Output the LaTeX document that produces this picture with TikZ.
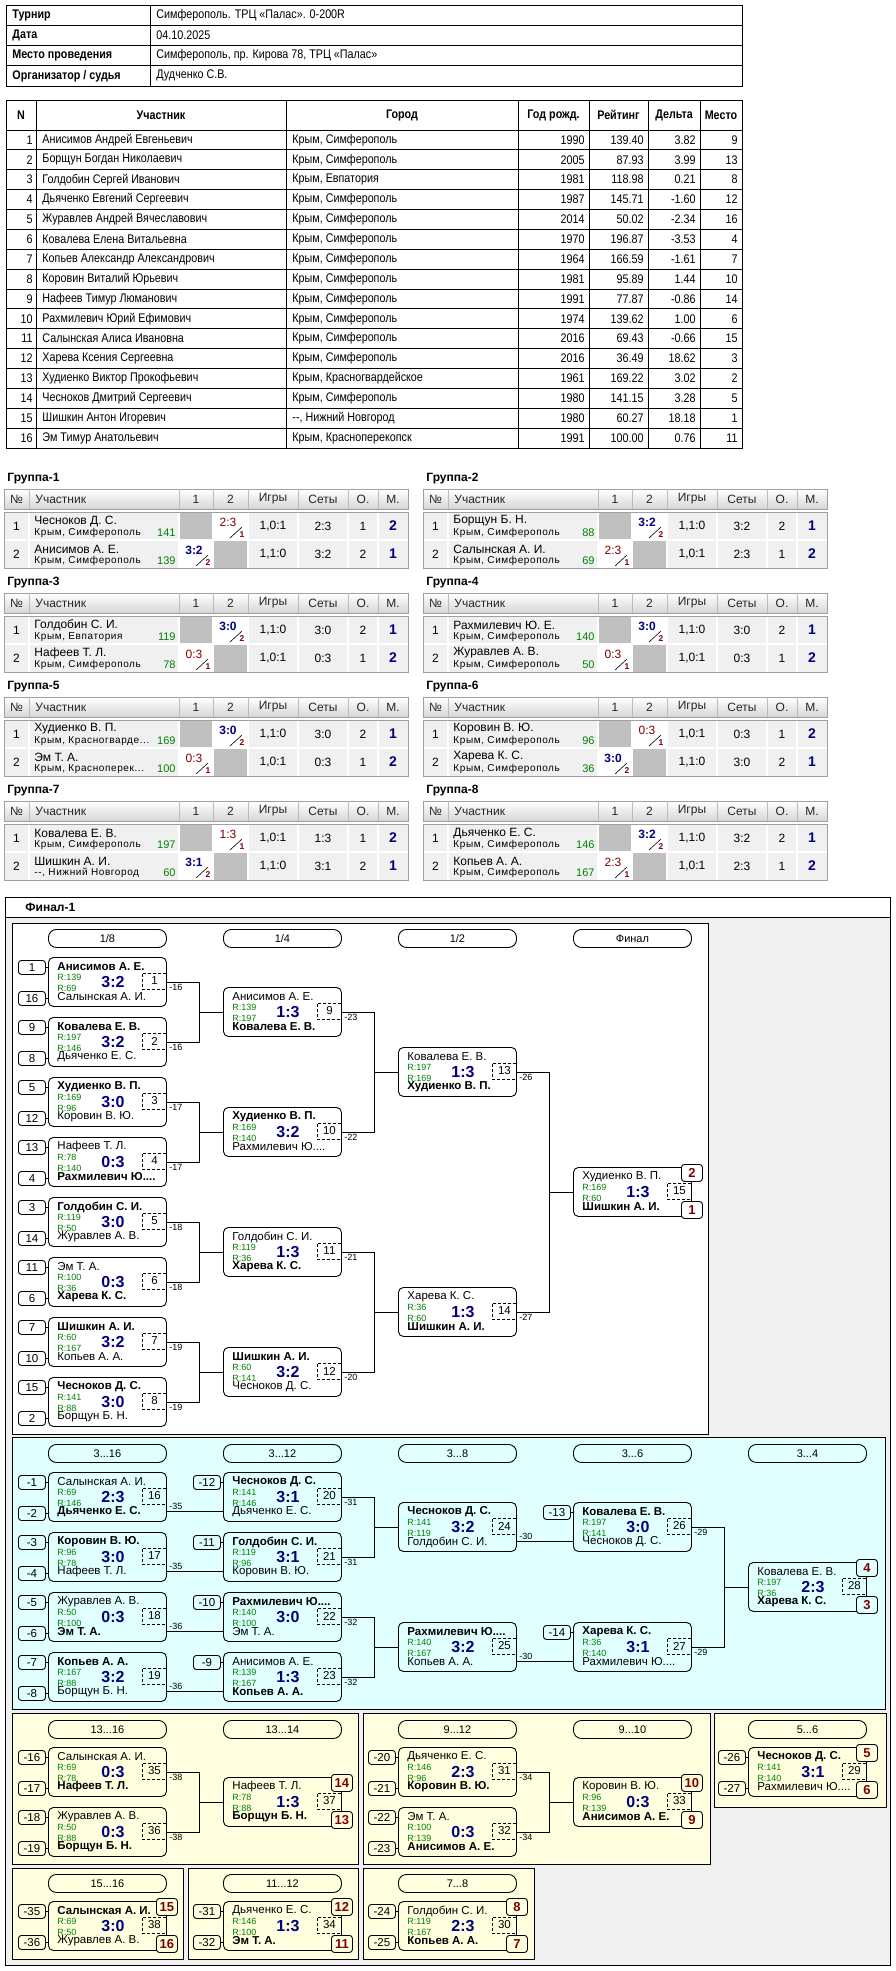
\documentclass[tikz,border=0pt]{standalone}
\usepackage{fontspec}
\setmainfont{Liberation Sans}
\newfontfamily\estreita[FakeStretch=0.86]{Liberation Sans}
\newfontfamily\cidade[LetterSpace=6]{Liberation Sans}
\usepackage{tikz}
\usetikzlibrary{calc,positioning}

\definecolor{azul}{HTML}{000080}
\definecolor{vinho}{HTML}{800000}
\definecolor{verde}{HTML}{008000}
\definecolor{fundo}{HTML}{F0F0F0}
\definecolor{ciano}{HTML}{E0FFFF}
\definecolor{creme}{HTML}{FFFFE0}
\definecolor{borda}{HTML}{A0A0A0}
\definecolor{celula}{HTML}{C0C0C0}

\newcommand\fsz[1]{\fontsize{#1}{#1}\selectfont}
\newcommand\ganhou{\bfseries\color{azul}}
\newcommand\perdeu{\color{vinho}}

% partida: nome, canto, jogador 1, R1, placar, R2, jogador 2, numero
\newcommand\partida[8]{%
  \node[jogo] (#1) at (#2) {};
  \node[jogador] (#1-a) at ($(#1.north west)+(9,10)$) {#3};
  \node[rating] (#1-ra) at ($(#1.north west)+(9,20)$) {R:#4};
  \node[placar] (#1-p) at ($(#1.north west)+(65,25)$) {#5};
  \node[rating] (#1-rb) at ($(#1.north west)+(9,31)$) {R:#6};
  \node[jogador] (#1-b) at ($(#1.north west)+(9,40)$) {#7};
  \node[numero] (#1-n) at ($(#1.north east)+(0,24)$) {#8};
}
\newcommand\sementes[3]{%
  \node[semente] (#1-s1) at ($(#1.north west)+(-30,3)$) {#2};
  \node[semente] (#1-s2) at ($(#1.north west)+(-30,34)$) {#3};
  \draw (#1-s1) -- (#1-s1 -| #1.west);
  \draw (#1-s2) -- (#1-s2 -| #1.west);
}
\newcommand\semente[2]{%
  \node[semente] (#1-s1) at ($(#1.north west)+(-30,3)$) {#2};
  \draw (#1-s1) -- (#1-s1 -| #1.west);
}
\newcommand\lugares[4]{%
  \node[lugar, fill=#4, anchor=north east] (#1-l1) at ($(#1.north east)+(11,-3)$) {#2};
  \node[lugar, fill=#4, anchor=south east] (#1-l2) at ($(#1.south east)+(11,2)$) {#3};
}
% grupo: nome, x, y, titulo, linhas
\newcommand\grupo[5]{%
  \begin{scope}[shift={(#2,#3)}]
    \node[gtitulo] (#1) at (3,0) {#4};
    \shade[top color=white, bottom color=black!16] (0,10) rectangle (404,30);
    \draw[borda] (0,10) rectangle (404,30);
    \foreach \cx in {25,175,209,244,294,344,374} \draw[borda!70] (\cx,10) -- (\cx,30);
    \node[gcab] (#1-h1) at (12.5,20) {№};
    \node[gcab, anchor=west] (#1-h2) at (31,20) {Участник};
    \foreach \cx/\tx [count=\i from 3] in {192/1, 226.5/2, 269/Игры, 319/Сеты, 359/О., 389/М.}
      \node[gcab] (#1-h\i) at (\cx,20) {\tx};
    \fill[fundo] (0,33) rectangle (404,89);
    \fill[celula] (175,33) rectangle (209,61);
    \fill[celula] (209,61) rectangle (244,89);
    \fill[white] (209,33) rectangle (244,61);
    \fill[white] (175,61) rectangle (209,89);
    \foreach \cx in {25,175,209,244,294,344,374} \draw[white, line width=1.2pt] (\cx,33) -- (\cx,89);
    \draw[white, line width=1.2pt] (0,61) -- (404,61);
    \draw[borda] (0,33) rectangle (404,89);
    \foreach \gn/\gc/\gr/\gs/\gv/\gf/\gj/\gse/\go/\gm [count=\r] in {#5} {
      \pgfmathsetmacro\yy{33+28*(\r-1)}
      \pgfmathsetmacro\sx{209-34*(\r-1)}
      \node[gtexto] (#1-n\r) at (12.5,\yy+14) {\r};
      \node[gnome] (#1-a\r) at (30,\yy+9) {\gn};
      \node[gcid] (#1-c\r) at (30,\yy+21) {\gc};
      \node[grat] (#1-r\r) at (172,\yy+21) {\gr};
      \node[gtexto] (#1-s\r) at (\sx+15,\yy+10) {\gf\gs};
      \draw[line width=0.6pt] (\sx+17,\yy+26) -- (\sx+29,\yy+15);
      \node[gsub] (#1-v\r) at (\sx+29,\yy+22.5) {\gv};
      \node[gtexto] (#1-j\r) at (269,\yy+14) {\gj};
      \node[gtexto] (#1-e\r) at (319,\yy+14) {\gse};
      \node[gtexto] (#1-o\r) at (359,\yy+14) {\go};
      \node[glugar] (#1-m\r) at (389,\yy+14) {\gm};
    }
  \end{scope}
}

\begin{document}
\begin{tikzpicture}[x=1pt, y=-1pt, line width=0.9pt,
  info/.style={anchor=west, inner sep=0pt, font=\estreita\fsz{12.5}},
  num/.style={anchor=east, inner sep=0pt, font=\estreita\fsz{12.5}},
  cab/.style={inner sep=0pt, font=\estreita\fsz{12.5}\bfseries},
  gtitulo/.style={anchor=west, inner sep=0pt, font=\fsz{12}\bfseries},
  gcab/.style={inner sep=0pt, font=\fsz{12}, text=black!85},
  gtexto/.style={inner sep=0pt, font=\fsz{12}},
  gnome/.style={anchor=west, inner sep=0pt, font=\fsz{12}},
  gcid/.style={anchor=west, inner sep=0pt, font=\cidade\fsz{10}},
  grat/.style={anchor=east, inner sep=0pt, font=\fsz{11}, text=verde},
  gsub/.style={inner sep=0pt, font=\fsz{8.5}\bfseries, text=vinho},
  glugar/.style={inner sep=0pt, font=\fsz{14}\bfseries, text=azul},
  jogo/.style={draw, rounded corners=5pt, anchor=north west, minimum width=118pt, minimum height=49pt, inner sep=0pt},
  jogador/.style={anchor=west, inner sep=0pt, font=\fsz{11.5}},
  rating/.style={anchor=west, inner sep=0pt, font=\fsz{9}, text=verde},
  placar/.style={inner sep=0pt, font=\fsz{16}\bfseries, text=azul},
  numero/.style={draw, dash pattern=on 3pt off 2pt, anchor=east, minimum width=24pt, minimum height=16pt, inner sep=0pt, font=\fsz{11.5}},
  semente/.style={draw, rounded corners=3pt, anchor=north west, minimum width=27pt, minimum height=14pt, inner sep=0pt, font=\fsz{11.5}},
  lugar/.style={draw, rounded corners=3pt, minimum width=21pt, minimum height=17pt, inner sep=0pt, font=\fsz{13}\bfseries, text=vinho},
  rodada/.style={draw, rounded corners=8pt, anchor=north west, minimum width=118pt, minimum height=18pt, inner sep=0pt, font=\fsz{11}},
  perda/.style={font=\fsz{9}, inner sep=1pt, anchor=north west, pos=0, yshift=-1pt, xshift=1pt},
  perdab/.style={font=\fsz{9}, inner sep=1pt, anchor=south west, pos=0, xshift=1pt}]
\useasboundingbox (0,0) rectangle (895,1971);

% Torneio
\draw (6,5) rectangle (742,86);
\draw (150,5) -- (150,86);
\foreach \lab/\val [count=\i] in {Турнир/{Симферополь. ТРЦ «Палас». 0-200R}, Дата/04.10.2025, {Место проведения}/{Симферополь, пр. Кирова 78, ТРЦ «Палас»}, {Организатор / судья}/{Дудченко С.В.}} {
  \pgfmathsetmacro\yy{5+20.25*(\i-0.5)}
  \node[info, font=\estreita\fsz{12.5}\bfseries] (i\i) at (12,\yy) {\lab};
  \node[info] (v\i) at (156,\yy) {\val};
  \ifnum\i>1 \draw (6,\yy-10.125) -- (742,\yy-10.125); \fi
}

% Participantes
\draw (6,100) rectangle (742,448);
\foreach \cx in {36,286,518,589,648,700} \draw (\cx,100) -- (\cx,448);
\foreach \k in {0,...,15} \draw (6,130+19.875*\k) -- (742,130+19.875*\k);
\foreach \cx/\tx [count=\i] in {21/N, 161/Участник, 402/Город, 553.5/{Год рожд.}, 618.5/Рейтинг, 674/Дельта, 721/Место}
  \node[cab] (h\i) at (\cx,115) {\tx};
\foreach \pnome/\pcid/\pano/\prat/\pdel/\plug [count=\i] in {
  {Анисимов Андрей Евгеньевич}/{Крым, Симферополь}/1990/139.40/3.82/9,
  {Борщун Богдан Николаевич}/{Крым, Симферополь}/2005/87.93/3.99/13,
  {Голдобин Сергей Иванович}/{Крым, Евпатория}/1981/118.98/0.21/8,
  {Дьяченко Евгений Сергеевич}/{Крым, Симферополь}/1987/145.71/-1.60/12,
  {Журавлев Андрей Вячеславович}/{Крым, Симферополь}/2014/50.02/-2.34/16,
  {Ковалева Елена Витальевна}/{Крым, Симферополь}/1970/196.87/-3.53/4,
  {Копьев Александр Александрович}/{Крым, Симферополь}/1964/166.59/-1.61/7,
  {Коровин Виталий Юрьевич}/{Крым, Симферополь}/1981/95.89/1.44/10,
  {Нафеев Тимур Люманович}/{Крым, Симферополь}/1991/77.87/-0.86/14,
  {Рахмилевич Юрий Ефимович}/{Крым, Симферополь}/1974/139.62/1.00/6,
  {Салынская Алиса Ивановна}/{Крым, Симферополь}/2016/69.43/-0.66/15,
  {Харева Ксения Сергеевна}/{Крым, Симферополь}/2016/36.49/18.62/3,
  {Худиенко Виктор Прокофьевич}/{Крым, Красногвардейское}/1961/169.22/3.02/2,
  {Чесноков Дмитрий Сергеевич}/{Крым, Симферополь}/1980/141.15/3.28/5,
  {Шишкин Антон Игоревич}/{{-}{-}, Нижний Новгород}/1980/60.27/18.18/1,
  {Эм Тимур Анатольевич}/{Крым, Красноперекопск}/1991/100.00/0.76/11} {
  \pgfmathsetmacro\yy{130+19.875*(\i-0.5)}
  \node[num] (pn\i) at (33,\yy) {\i};
  \node[info] (pp\i) at (42,\yy) {\pnome};
  \node[info] (pc\i) at (292,\yy) {\pcid};
  \node[num] (pa\i) at (585,\yy) {\pano};
  \node[num] (pr\i) at (644,\yy) {\prat};
  \node[num] (pd\i) at (696,\yy) {\pdel};
  \node[num] (pl\i) at (738,\yy) {\plug};
}

% Grupos
\grupo{g1}{4}{479}{Группа-1}{{Чесноков Д. С.}/{Крым, Симферополь}/141/2:3/1/\perdeu/{1,0:1}/2:3/1/2, {Анисимов А. Е.}/{Крым, Симферополь}/139/3:2/2/\ganhou/{1,1:0}/3:2/2/1}
\grupo{g2}{423}{479}{Группа-2}{{Борщун Б. Н.}/{Крым, Симферополь}/88/3:2/2/\ganhou/{1,1:0}/3:2/2/1, {Салынская А. И.}/{Крым, Симферополь}/69/2:3/1/\perdeu/{1,0:1}/2:3/1/2}
\grupo{g3}{4}{583}{Группа-3}{{Голдобин С. И.}/{Крым, Евпатория}/119/3:0/2/\ganhou/{1,1:0}/3:0/2/1, {Нафеев Т. Л.}/{Крым, Симферополь}/78/0:3/1/\perdeu/{1,0:1}/0:3/1/2}
\grupo{g4}{423}{583}{Группа-4}{{Рахмилевич Ю. Е.}/{Крым, Симферополь}/140/3:0/2/\ganhou/{1,1:0}/3:0/2/1, {Журавлев А. В.}/{Крым, Симферополь}/50/0:3/1/\perdeu/{1,0:1}/0:3/1/2}
\grupo{g5}{4}{687}{Группа-5}{{Худиенко В. П.}/{Крым, Красногварде...}/169/3:0/2/\ganhou/{1,1:0}/3:0/2/1, {Эм Т. А.}/{Крым, Красноперек...}/100/0:3/1/\perdeu/{1,0:1}/0:3/1/2}
\grupo{g6}{423}{687}{Группа-6}{{Коровин В. Ю.}/{Крым, Симферополь}/96/0:3/1/\perdeu/{1,0:1}/0:3/1/2, {Харева К. С.}/{Крым, Симферополь}/36/3:0/2/\ganhou/{1,1:0}/3:0/2/1}
\grupo{g7}{4}{791}{Группа-7}{{Ковалева Е. В.}/{Крым, Симферополь}/197/1:3/1/\perdeu/{1,0:1}/1:3/1/2, {Шишкин А. И.}/{{-}{-}, Нижний Новгород}/60/3:1/2/\ganhou/{1,1:0}/3:1/2/1}
\grupo{g8}{423}{791}{Группа-8}{{Дьяченко Е. С.}/{Крым, Симферополь}/146/3:2/2/\ganhou/{1,1:0}/3:2/2/1, {Копьев А. А.}/{Крым, Симферополь}/167/2:3/1/\perdeu/{1,0:1}/2:3/1/2}

% Final-1: fundos
\draw[fill=fundo] (5,897) rectangle (890,1965);
\draw[fill=white] (5,897) rectangle (890,917);
\node[gtitulo] (fin) at (25,907) {Финал-1};
\draw[fill=white] (12,923) rectangle (708,1434);
\draw[fill=ciano] (12,1437) rectangle (885,1709);
\draw[fill=creme] (12,1713) rectangle (358,1864);
\draw[fill=creme] (363,1713) rectangle (710,1864);
\draw[fill=creme] (714,1713) rectangle (886,1807);
\draw[fill=creme] (12,1868) rectangle (183,1959);
\draw[fill=creme] (188,1868) rectangle (358,1959);
\draw[fill=creme] (363,1868) rectangle (534,1959);

% Rodadas
\node[rodada] (t18) at (48,929) {1/8};
\node[rodada] (t14) at (223,929) {1/4};
\node[rodada] (t12) at (398,929) {1/2};
\node[rodada] (tf) at (573,929) {Финал};
\node[rodada] (t316) at (48,1444) {3...16};
\node[rodada] (t312) at (223,1444) {3...12};
\node[rodada] (t38) at (398,1444) {3...8};
\node[rodada] (t36) at (573,1444) {3...6};
\node[rodada] (t34) at (748,1444) {3...4};
\node[rodada] (t1316) at (48,1720) {13...16};
\node[rodada] (t1314) at (223,1720) {13...14};
\node[rodada] (t912) at (398,1720) {9...12};
\node[rodada] (t910) at (573,1720) {9...10};
\node[rodada] (t56) at (748,1720) {5...6};
\node[rodada] (t1516) at (48,1874) {15...16};
\node[rodada] (t1112) at (223,1874) {11...12};
\node[rodada] (t78) at (398,1874) {7...8};

% Chave principal
\partida{m1}{48,957}{\bfseries Анисимов А. Е.}{139}{3:2}{69}{Салынская А. И.}{1}
\sementes{m1}{1}{16}
\partida{m2}{48,1017}{\bfseries Ковалева Е. В.}{197}{3:2}{146}{Дьяченко Е. С.}{2}
\sementes{m2}{9}{8}
\partida{m3}{48,1077}{\bfseries Худиенко В. П.}{169}{3:0}{96}{Коровин В. Ю.}{3}
\sementes{m3}{5}{12}
\partida{m4}{48,1137}{Нафеев Т. Л.}{78}{0:3}{140}{\bfseries Рахмилевич Ю....}{4}
\sementes{m4}{13}{4}
\partida{m5}{48,1197}{\bfseries Голдобин С. И.}{119}{3:0}{50}{Журавлев А. В.}{5}
\sementes{m5}{3}{14}
\partida{m6}{48,1257}{Эм Т. А.}{100}{0:3}{36}{\bfseries Харева К. С.}{6}
\sementes{m6}{11}{6}
\partida{m7}{48,1317}{\bfseries Шишкин А. И.}{60}{3:2}{167}{Копьев А. А.}{7}
\sementes{m7}{7}{10}
\partida{m8}{48,1377}{\bfseries Чесноков Д. С.}{141}{3:0}{88}{Борщун Б. Н.}{8}
\sementes{m8}{15}{2}
\partida{m9}{223,987}{Анисимов А. Е.}{139}{1:3}{197}{\bfseries Ковалева Е. В.}{9}
\partida{m10}{223,1107}{\bfseries Худиенко В. П.}{169}{3:2}{140}{Рахмилевич Ю....}{10}
\partida{m11}{223,1227}{Голдобин С. И.}{119}{1:3}{36}{\bfseries Харева К. С.}{11}
\partida{m12}{223,1347}{\bfseries Шишкин А. И.}{60}{3:2}{141}{Чесноков Д. С.}{12}
\partida{m13}{398,1047}{Ковалева Е. В.}{197}{1:3}{169}{\bfseries Худиенко В. П.}{13}
\partida{m14}{398,1287}{Харева К. С.}{36}{1:3}{60}{\bfseries Шишкин А. И.}{14}
\partida{m15}{573,1167}{Худиенко В. П.}{169}{1:3}{60}{\bfseries Шишкин А. И.}{15}
\lugares{m15}{2}{1}{white}

% Chave 3...16
\partida{m16}{48,1472}{Салынская А. И.}{69}{2:3}{146}{\bfseries Дьяченко Е. С.}{16}
\sementes{m16}{-1}{-2}
\partida{m17}{48,1532}{\bfseries Коровин В. Ю.}{96}{3:0}{78}{Нафеев Т. Л.}{17}
\sementes{m17}{-3}{-4}
\partida{m18}{48,1592}{Журавлев А. В.}{50}{0:3}{100}{\bfseries Эм Т. А.}{18}
\sementes{m18}{-5}{-6}
\partida{m19}{48,1652}{\bfseries Копьев А. А.}{167}{3:2}{88}{Борщун Б. Н.}{19}
\sementes{m19}{-7}{-8}
\partida{m20}{223,1472}{\bfseries Чесноков Д. С.}{141}{3:1}{146}{Дьяченко Е. С.}{20}
\semente{m20}{-12}
\partida{m21}{223,1532}{\bfseries Голдобин С. И.}{119}{3:1}{96}{Коровин В. Ю.}{21}
\semente{m21}{-11}
\partida{m22}{223,1592}{\bfseries Рахмилевич Ю....}{140}{3:0}{100}{Эм Т. А.}{22}
\semente{m22}{-10}
\partida{m23}{223,1652}{Анисимов А. Е.}{139}{1:3}{167}{\bfseries Копьев А. А.}{23}
\semente{m23}{-9}
\partida{m24}{398,1502}{\bfseries Чесноков Д. С.}{141}{3:2}{119}{Голдобин С. И.}{24}
\partida{m25}{398,1622}{\bfseries Рахмилевич Ю....}{140}{3:2}{167}{Копьев А. А.}{25}
\partida{m26}{573,1502}{\bfseries Ковалева Е. В.}{197}{3:0}{141}{Чесноков Д. С.}{26}
\semente{m26}{-13}
\partida{m27}{573,1622}{\bfseries Харева К. С.}{36}{3:1}{140}{Рахмилевич Ю....}{27}
\semente{m27}{-14}
\partida{m28}{748,1562}{Ковалева Е. В.}{197}{2:3}{36}{\bfseries Харева К. С.}{28}
\lugares{m28}{4}{3}{ciano}

% Chaves de baixo
\partida{m35}{48,1747}{Салынская А. И.}{69}{0:3}{78}{\bfseries Нафеев Т. Л.}{35}
\sementes{m35}{-16}{-17}
\partida{m36}{48,1807}{Журавлев А. В.}{50}{0:3}{88}{\bfseries Борщун Б. Н.}{36}
\sementes{m36}{-18}{-19}
\partida{m37}{223,1777}{Нафеев Т. Л.}{78}{1:3}{88}{\bfseries Борщун Б. Н.}{37}
\lugares{m37}{14}{13}{creme}
\partida{m31}{398,1747}{Дьяченко Е. С.}{146}{2:3}{96}{\bfseries Коровин В. Ю.}{31}
\sementes{m31}{-20}{-21}
\partida{m32}{398,1807}{Эм Т. А.}{100}{0:3}{139}{\bfseries Анисимов А. Е.}{32}
\sementes{m32}{-22}{-23}
\partida{m33}{573,1777}{Коровин В. Ю.}{96}{0:3}{139}{\bfseries Анисимов А. Е.}{33}
\lugares{m33}{10}{9}{creme}
\partida{m29}{748,1747}{\bfseries Чесноков Д. С.}{141}{3:1}{140}{Рахмилевич Ю....}{29}
\sementes{m29}{-26}{-27}
\lugares{m29}{5}{6}{creme}
\partida{m38}{48,1901}{\bfseries Салынская А. И.}{69}{3:0}{50}{Журавлев А. В.}{38}
\sementes{m38}{-35}{-36}
\lugares{m38}{15}{16}{creme}
\partida{m34}{223,1901}{Дьяченко Е. С.}{146}{1:3}{100}{\bfseries Эм Т. А.}{34}
\sementes{m34}{-31}{-32}
\lugares{m34}{12}{11}{creme}
\partida{m30}{398,1901}{Голдобин С. И.}{119}{2:3}{167}{\bfseries Копьев А. А.}{30}
\sementes{m30}{-24}{-25}
\lugares{m30}{8}{7}{creme}

% Arestas
\foreach \a/\b/\l in {m1/m9/-16, m2/m9/-16, m3/m10/-17, m4/m10/-17, m5/m11/-18, m6/m11/-18,
  m7/m12/-19, m8/m12/-19, m9/m13/-23, m10/m13/-22, m11/m14/-21, m12/m14/-20, m13/m15/-26, m14/m15/-27,
  m20/m24/-31, m21/m24/-31, m22/m25/-32, m23/m25/-32, m26/m28/-29, m27/m28/-29,
  m35/m37/-38, m36/m37/-38, m31/m33/-34, m32/m33/-34}
  \draw (\a.east) -- node[perda] {\l} ++(33,0) |- (\b.west);
\foreach \a/\b/\l in {m16/m20/-35, m17/m21/-35, m18/m22/-36, m19/m23/-36, m24/m26/-30, m25/m27/-30}
  \draw ([yshift=-14.5pt]\a.east) -- node[perdab] {\l} ([yshift=-14.5pt]\b.west);
\end{tikzpicture}
\end{document}
